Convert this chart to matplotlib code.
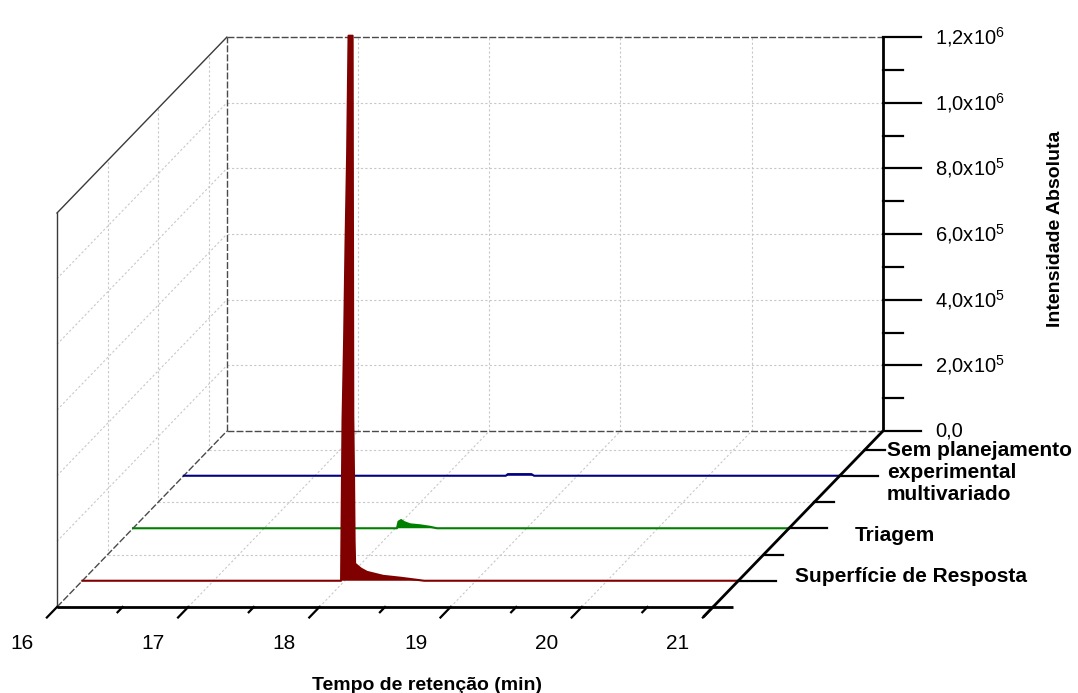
import numpy as np
import matplotlib.pyplot as plt
from matplotlib.transforms import Affine2D

plt.rcParams['font.family'] = ['Liberation Sans', 'DejaVu Sans']
plt.rcParams['mathtext.fontset'] = 'custom'
plt.rcParams['mathtext.rm'] = 'Liberation Sans'
plt.rcParams['mathtext.default'] = 'regular'

# ---------------------------------------------------------------------------
# DATA
# ---------------------------------------------------------------------------
series_names = ["Superfície de Resposta", "Triagem",
                "Sem planejamento\nexperimental\nmultivariado"]
series_depth = [1, 2, 3]
series_color = ["#800000", "#008000", "#000080"]

# Superfície de Resposta
rs_time = [16.0, 17.972, 17.976, 17.983, 17.995, 18.006, 18.018, 18.029, 18.060,
           18.062, 18.065, 18.071, 18.075, 18.079, 18.124, 18.170, 18.292,
           18.430, 18.605, 21.0]
rs_int = [0, 0, 183000, 487000, 731000, 1030000, 1295000, 1660000, 1660000,
          1200000, 500000, 305000, 122000, 52000, 37000, 27000, 15000,
          9000, 0, 0]

# Triagem
tr_time = [16.0, 18.012, 18.023, 18.043, 18.065, 18.111, 18.187, 18.263, 18.316, 21.0]
tr_int = [0, 0, 20000, 25000, 19000, 12000, 9000, 4500, 0, 0]

# Sem planejamento experimental multivariado
sp_time = [16.0, 18.455, 18.47, 18.65, 18.67, 21.0]
sp_int = [0, 0, 5000, 5000, 0, 0]

series_time = [rs_time, tr_time, sp_time]
series_int = [rs_int, tr_int, sp_int]

x_major = [16, 17, 18, 19, 20, 21]
x_minor = [16.5, 17.5, 18.5, 19.5, 20.5]
z_major = [0, 2e5, 4e5, 6e5, 8e5, 1e6, 1.2e6]
z_labels = ["0,0", "2,0x10$^5$", "4,0x10$^5$", "6,0x10$^5$", "8,0x10$^5$",
            "1,0x10$^6$", "1,2x10$^6$"]
z_minor = [1e5, 3e5, 5e5, 7e5, 9e5, 1.1e6]
d_major = [1, 2, 3]
d_minor = [1.5, 2.5, 3.5]

# ---------------------------------------------------------------------------
# BOX GEOMETRY (oblique projection)
# ---------------------------------------------------------------------------
T_MIN, T_MAX = 16, 21
D_FRONT, D_BACK = 0.5, 3.85
Z_MAX = 1.2e6
PX_PER_MIN = 131.2
PX_DEPTH_X = 50.7
PX_DEPTH_Y = 52.5
I_PER_PX = Z_MAX / 394
KX = PX_DEPTH_X / PX_PER_MIN
KY = PX_DEPTH_Y * I_PER_PX

fig = plt.figure(figsize=(10.78, 6.93), dpi=100)
ax = fig.add_axes([0, 0, 1, 1])
ax.set_xlim(T_MIN - 57 / PX_PER_MIN, T_MIN + (1078 - 57) / PX_PER_MIN)
ax.set_ylim(-(693 - 607) * I_PER_PX, 607 * I_PER_PX)
ax.axis('off')


def wall_ti(d):
    # (time, intensity) plane at depth d
    return Affine2D().translate(KX * (d - D_FRONT), KY * (d - D_FRONT)) + ax.transData


def floor_td():
    # (time, depth) plane at intensity 0
    m = np.array([[1, KX, -KX * D_FRONT], [0, KY, -KY * D_FRONT], [0, 0, 1]])
    return Affine2D(m) + ax.transData


def wall_di(t):
    # (depth, intensity) plane at time t
    m = np.array([[KX, 0, t - KX * D_FRONT], [KY, 1, -KY * D_FRONT], [0, 0, 1]])
    return Affine2D(m) + ax.transData


grid_kw = dict(color="#c8c8c8", lw=0.8, linestyle=(0, (2, 2)), zorder=1)
edge_kw = dict(color="#4a4a4a", lw=1.0, linestyle=(0, (5, 1.5)), zorder=2)
axis_kw = dict(color="black", lw=2.0, zorder=6, solid_capstyle="butt")
tick_kw = dict(color="black", lw=1.6, zorder=6)

back = wall_ti(D_BACK)
floor = floor_td()
left = wall_di(T_MIN)

# grids
for t in x_major[1:-1]:
    ax.plot([t, t], [0, Z_MAX], transform=back, **grid_kw)
    ax.plot([t, t], [D_FRONT, D_BACK], transform=floor, **grid_kw)
for z in z_major[1:-1]:
    ax.plot([T_MIN, T_MAX], [z, z], transform=back, **grid_kw)
    ax.plot([D_FRONT, D_BACK], [z, z], transform=left, **grid_kw)
for d in d_minor:
    ax.plot([T_MIN, T_MAX], [d, d], transform=floor, **grid_kw)
    ax.plot([d, d], [0, Z_MAX], transform=left, **grid_kw)

# box edges
ax.plot([T_MIN, T_MIN], [0, Z_MAX], transform=back, **edge_kw)
ax.plot([T_MIN, T_MAX], [Z_MAX, Z_MAX], transform=back, **edge_kw)
ax.plot([T_MIN, T_MAX], [0, 0], transform=back, **edge_kw)
ax.plot([T_MIN, T_MIN], [D_FRONT, D_BACK], transform=floor, **edge_kw)
ax.plot([D_FRONT, D_BACK], [Z_MAX, Z_MAX], transform=left, color="#3a3a3a", lw=1.0, zorder=2)
ax.plot([D_FRONT, D_FRONT], [0, Z_MAX], transform=left, color="#3a3a3a", lw=1.0, zorder=2)

# series, back to front
for k in [2, 1, 0]:
    tr = wall_ti(series_depth[k])
    z = 3 + (2 - k)
    ax.fill(series_time[k], series_int[k], color=series_color[k], lw=0,
            transform=tr, zorder=z)
    ax.plot(series_time[k], series_int[k], color=series_color[k], lw=1.5,
            transform=tr, zorder=z)

# axes lines
ax.plot([T_MIN, T_MAX + 0.15], [D_FRONT, D_FRONT], transform=floor, **axis_kw)
ax.plot([T_MAX, T_MAX], [D_FRONT - 0.19, D_BACK], transform=floor, **axis_kw)
ax.plot([T_MAX, T_MAX], [0, Z_MAX], transform=back, **axis_kw)

# x ticks
for t in x_major:
    ax.plot([t, t], [D_FRONT, D_FRONT - 0.2], transform=floor, **tick_kw)
    ax.text(t, D_FRONT - 0.69, str(t), transform=floor, ha="center", va="center",
            fontsize=15)
for t in x_minor:
    ax.plot([t, t], [D_FRONT, D_FRONT - 0.1], transform=floor, **tick_kw)

# z ticks
for z, lab in zip(z_major, z_labels):
    ax.plot([T_MAX, T_MAX + 0.29], [z, z], transform=back, **tick_kw)
    ax.text(T_MAX + 0.40, z, lab, transform=back, ha="left", va="center", fontsize=14.5)
for z in z_minor:
    ax.plot([T_MAX, T_MAX + 0.15], [z, z], transform=back, **tick_kw)

# depth ticks
for d in d_major:
    ax.plot([T_MAX, T_MAX + 0.29], [d, d], transform=floor, **tick_kw)
for d in d_minor:
    ax.plot([T_MAX, T_MAX + 0.15], [d, d], transform=floor, **tick_kw)

# depth labels
label_t = [21.43, 21.50, 21.36]
label_dz = [12000, -21000, 9000]
for name, d, tx, dz in zip(series_names, series_depth, label_t, label_dz):
    ax.text(tx, dz, name, transform=wall_ti(d), ha="left", va="center",
            fontsize=15, fontweight="bold", linespacing=1.2)

fig.text(427 / 1078, 1 - 686 / 693, "Tempo de retenção (min)", ha="center",
         va="center", fontsize=14, fontweight="bold")
fig.text(1055 / 1078, 1 - 229 / 693, "Intensidade Absoluta", ha="center",
         va="center", rotation=90, fontsize=14, fontweight="bold")

fig.savefig("out.png", dpi=100)
